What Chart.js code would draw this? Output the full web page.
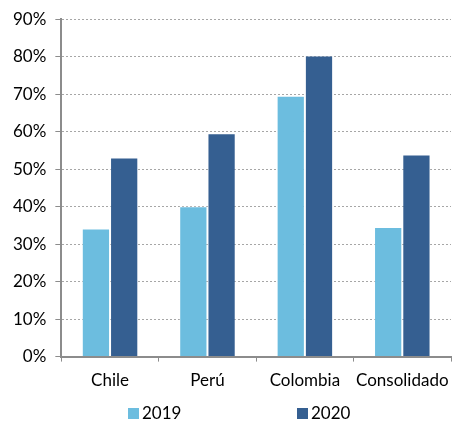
<!DOCTYPE html>
<html>
<head>
<meta charset="utf-8">
<script src="https://cdn.jsdelivr.net/npm/chart.js@4"></script>
<style>
  html, body { margin: 0; padding: 0; background: #fff; }
  #wrap { width: 453px; height: 423px; }
</style>
</head>
<body>
<div id="wrap"><canvas id="graficoPaises"></canvas></div>
<script>
const paises = ['Chile', 'Perú', 'Colombia', 'Consolidado']
const valores2019 = [34.2, 40.1, 69.6, 34.6]
const valores2020 = [53.1, 59.6, 80.3, 53.9]
const ticksY = [0, 10, 20, 30, 40, 50, 60, 70, 80, 90]

const fuente = { family: 'Lato', size: 17 }

// leyenda dibujada a mano: dos items bien separados bajo el eje
const leyendaAbajo = {
  id: 'leyendaAbajo',
  afterDraw: (chart) => {
    const c = chart.ctx
    const xs = [128, 297]
    const y = chart.height - 9
    c.save()
    c.font = fuente.size + 'px ' + fuente.family
    c.textBaseline = 'middle'
    chart.data.datasets.forEach((ds, i) => {
      c.fillStyle = ds.backgroundColor
      c.fillRect(xs[i], y - 6, 11, 11)
      c.fillStyle = '#000'
      c.fillText(ds.label, xs[i] + 14, y)
    })
    c.restore()
  }
}

const ctx = document.getElementById('graficoPaises')

new Chart(ctx, {
  type: 'bar',
  data: {
    labels: paises,
    datasets: [
      {
        label: '2019',
        data: valores2019,
        backgroundColor: '#6cbddf',
        borderColor: 'rgba(255,255,255,0.35)',
        borderWidth: 1,
        categoryPercentage: 0.58,
        barPercentage: 1
      },
      {
        label: '2020',
        data: valores2020,
        backgroundColor: '#355f91',
        borderColor: 'rgba(255,255,255,0.35)',
        borderWidth: 1,
        categoryPercentage: 0.58,
        barPercentage: 1
      }
    ]
  },
  options: {
    responsive: true,
    maintainAspectRatio: false,
    animation: false,
    layout: { padding: { left: 4, right: 2, top: 11, bottom: 23 } },
    scales: {
      x: {
        // "Consolidado" puede salirse un poco, no hace falta reservarle margen
        afterFit: (scale) => {
          scale.paddingRight = 0
        },
        grid: { drawOnChartArea: false, drawTicks: true, tickLength: 5, color: '#8c8c8c' },
        border: { color: '#8c8c8c', width: 2 },
        ticks: { color: '#000', font: fuente, padding: 9, maxRotation: 0, minRotation: 0, autoSkip: false }
      },
      y: {
        min: 0,
        max: 90,
        afterBuildTicks: (axis) => {
          axis.ticks = ticksY.map((v) => ({ value: v }))
        },
        grid: { color: '#a6a6a6', tickColor: '#8c8c8c', tickLength: 6, drawTicks: true },
        border: { color: '#8c8c8c', width: 2, dash: [2, 2] },
        ticks: {
          color: '#000',
          font: fuente,
          padding: 9,
          autoSkip: false,
          callback: (v) => v + '%'
        }
      }
    },
    plugins: {
      legend: { display: false },
      tooltip: { enabled: false }
    }
  },
  plugins: [leyendaAbajo]
})
</script>
</body>
</html>
